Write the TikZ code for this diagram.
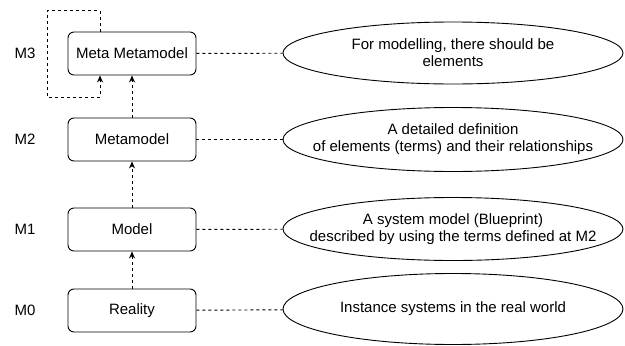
\documentclass[tikz,border=0pt]{standalone}
\usepackage{fontspec}
\setmainfont{Liberation Sans}
\usetikzlibrary{shapes.geometric,arrows.meta}
\begin{document}
\begin{tikzpicture}[x=1pt,y=-1pt,
  font=\fontsize{15}{17}\selectfont,
  box/.style={draw, rounded corners=6pt, minimum width=128pt, minimum height=43pt, line width=0.9pt},
  ell/.style={draw, ellipse, minimum width=340pt, inner sep=0pt, line width=0.9pt},
  txt/.style={align=center, inner sep=0pt},
  conn/.style={line width=0.9pt, dash pattern=on 3pt off 3pt},
  arr/.style={conn, -{Stealth[length=7pt,width=6pt]}}]
\useasboundingbox (0,0) rectangle (625,346);
% boxes
\node[box] (m3) at (132,53.5) {Meta Metamodel};
\node[box] (m2) at (132,139.5) {Metamodel};
\node[box] (m1) at (132,229.5) {Model};
\node[box] (m0) at (132,310.5) {Reality};
% level labels
\node (l3) at (25,53.5) {M3};
\node (l2) at (25,139.5) {M2};
\node (l1) at (25,229.5) {M1};
\node (l0) at (25,310.5) {M0};
% ellipses
\node[ell, minimum height=62pt] (e3) at (453,53) {};
\node[ell, minimum height=64pt] (e2) at (453,139.5) {};
\node[ell, minimum height=63pt] (e1) at (453,229) {};
\node[ell, minimum height=71pt] (e0) at (453,309) {};
\node[txt] (t3) at (e3) {For modelling, there should be\\elements};
\node[txt] (t2) at (e2) {A detailed definition\\of elements (terms) and their relationships};
\node[txt] (t1) at (e1) {A system model (Blueprint)\\described by using the terms defined at M2};
\node[txt] (t0) at (e0) {Instance systems in the real world};
% connectors
\draw[conn] (m3) -- (e3);
\draw[conn] (m2) -- (e2);
\draw[conn] (m1) -- (e1);
\draw[conn] (m0) -- (e0);
\draw[arr] (m0) -- (m1);
\draw[arr] (m1) -- (m2);
\draw[arr] (m2) -- (m3);
\draw[arr] ([xshift=-32pt]m3.north) -- ++(0,-21) -| (47,97) -| ([xshift=-32pt]m3.south);
\end{tikzpicture}
\end{document}
